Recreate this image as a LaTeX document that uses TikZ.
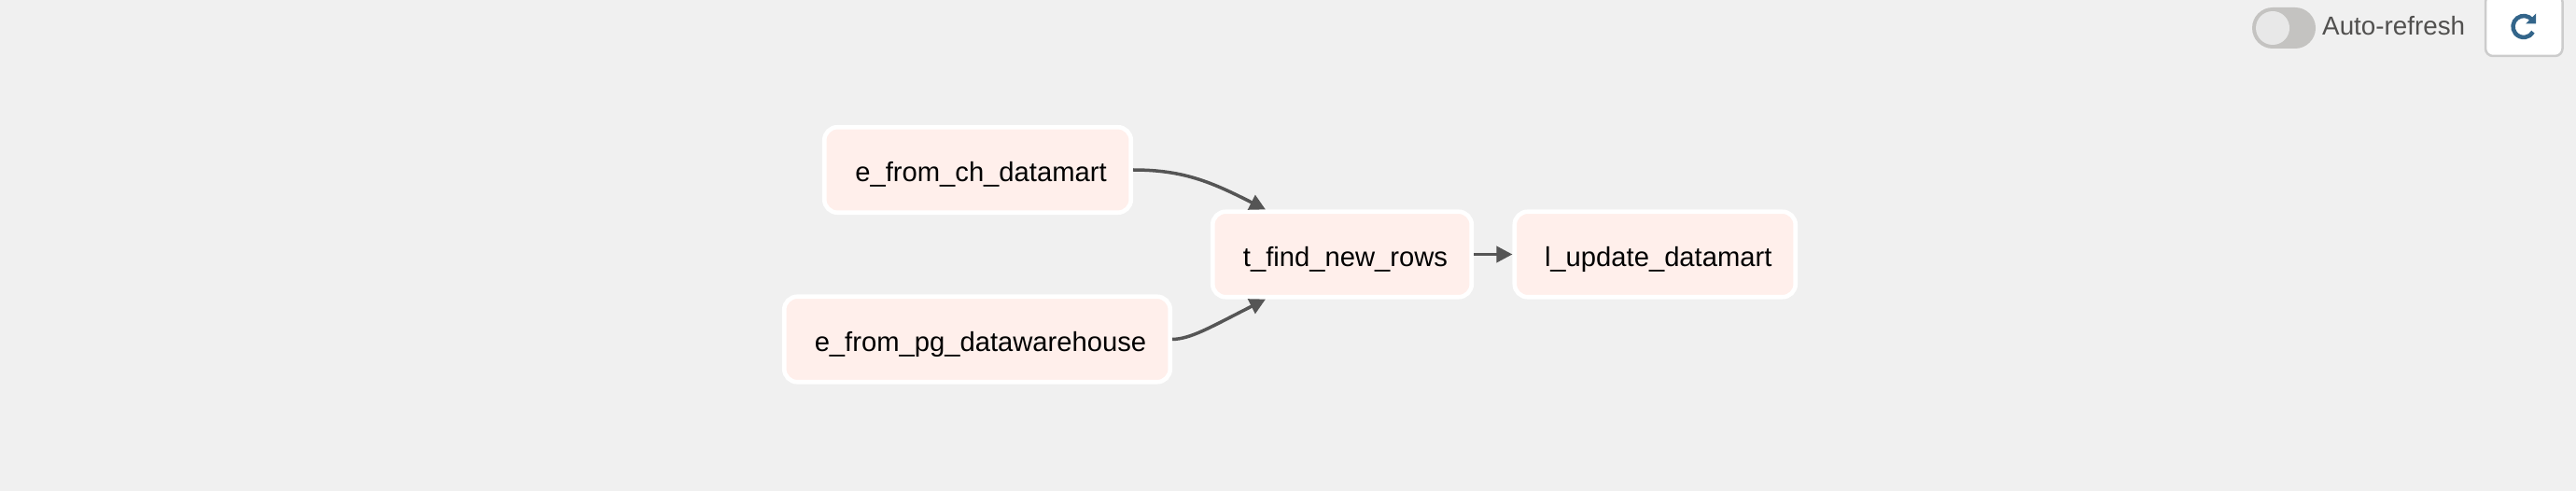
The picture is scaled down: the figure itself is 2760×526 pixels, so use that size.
\documentclass[tikz,border=0pt]{standalone}
\usepackage{fontspec}
\setmainfont{Liberation Sans}
\usetikzlibrary{arrows.meta}
\definecolor{bg}{HTML}{F0F0F0}
\definecolor{taskfill}{HTML}{FFEFEB}
\definecolor{edgec}{HTML}{555555}
\definecolor{track}{HTML}{C4C3C1}
\definecolor{knob}{HTML}{E8E8E8}
\definecolor{labelc}{HTML}{51504F}
\definecolor{btnb}{HTML}{CCCCCC}
\definecolor{iconc}{HTML}{33658A}
\tikzset{
  x=1pt,y=1pt,
  task/.style={draw=white,fill=taskfill,line width=4.6pt,rounded corners=14pt,
    minimum height=91.5pt,inner sep=0pt,text height=26pt,text depth=0pt,
    font=\fontsize{29.2pt}{34pt}\selectfont,text=black},
  edge/.style={draw=edgec,line width=3.5pt,-{Triangle[length=17pt,width=17pt]}},
}
\begin{document}
\begin{tikzpicture}
\useasboundingbox (0,0) rectangle (2760,-526);
\clip (0,0) rectangle (2760,-526);
\fill[bg] (0,0) rectangle (2760,-526);
\node[task,minimum width=328.5pt] (chmart) at (1047.5,-182) {\hspace{7pt}e\_from\_ch\_datamart};
\node[task,minimum width=413.5pt] (pgdwh) at (1047,-363.5) {\hspace{7pt}e\_from\_pg\_datawarehouse};
\node[task,minimum width=277.5pt] (findrows) at (1438,-272.5) {\hspace{7pt}t\_find\_new\_rows};
\node[task,minimum width=301pt] (update) at (1773.25,-272.5) {\hspace{7pt}l\_update\_datamart};
\coordinate (intop) at ([xshift=59pt]findrows.north west);
\coordinate (inbot) at ([xshift=59pt]findrows.south west);
\draw[edge] (chmart.east) .. controls (1268,-182) and (1298,-195) .. (intop);
\draw[edge] (pgdwh.east) .. controls (1276,-363) and (1296,-351) .. (inbot);
\draw[edge] (findrows.east) -- (update.west);
% toggle
\fill[track,rounded corners=22pt] (2413,-8) rectangle (2481,-52);
\node[circle,fill=knob,minimum size=36pt,inner sep=0pt] (toggleknob) at (2435,-30) {};
\node[anchor=base west,inner sep=0pt,text=labelc,font=\fontsize{27.8pt}{32pt}\selectfont] (autolabel) at (2488,-38) {Auto-refresh};
% refresh button
\draw[btnb,fill=white,line width=2.5pt,rounded corners=8pt] (2663,6) rectangle (2745.5,-60);
\draw[iconc,line width=4.5pt] (2704,-28.5) ++(38:11.5) arc[start angle=38,end angle=330,radius=11.5];
\fill[iconc] (2706,-25.5) -- (2717,-14.5) -- (2717,-25.5) -- cycle;
\end{tikzpicture}
\end{document}
